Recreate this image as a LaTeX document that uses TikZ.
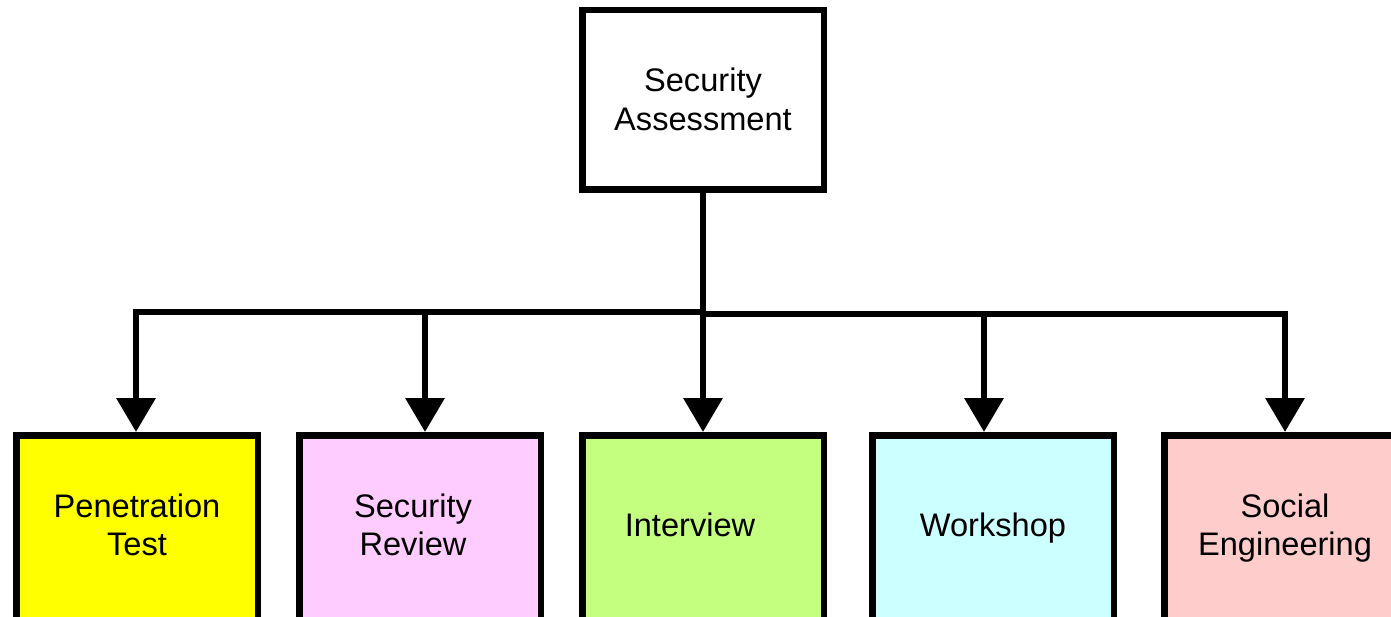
\documentclass[tikz,border=0pt]{standalone}
\usepackage{fontspec}
\setmainfont{Liberation Sans}
\usetikzlibrary{arrows.meta}

\definecolor{penfill}{HTML}{FFFF00}
\definecolor{revfill}{HTML}{FFCCFF}
\definecolor{intfill}{RGB}{196,255,128}
\definecolor{wsfill}{HTML}{CCFFFF}
\definecolor{socfill}{HTML}{FFCCCC}

% centred lines, set a little higher than the middle of their box
\newcommand\liftedlines[1]{%
  \raisebox{0pt}[\height][\dimexpr\depth+1.25pt\relax]{%
    \begin{tabular}{@{}c@{}}#1\end{tabular}}}

\begin{document}
\begin{tikzpicture}[
  x=0.5pt, y=-0.5pt,
  box/.style={draw=black, line width=3.25pt, rectangle,
    minimum width=120.75pt, minimum height=89.75pt, inner sep=0pt,
    align=center, font=\fontsize{16.3pt}{19.2pt}\selectfont},
  leaf/.style={box, minimum height=95pt, anchor=north},
  wire/.style={draw=black, line width=3.25pt, line join=miter},
  conn/.style={wire, -{Triangle[width=19pt,length=17pt]}}
]
\useasboundingbox (0,0) rectangle (1391,616);
\clip (0,0) rectangle (1391,616);

% root of the tree
\node[box, fill=white] (root) at (703,99.5) {Security\\Assessment};

% assessment methods
\node[leaf, fill=penfill] (pen) at (137,432) {\liftedlines{Penetration\\Test}};
\node[leaf, fill=revfill] (rev) at (420,432) {\liftedlines{Security\hspace*{7pt}\\Review\hspace*{7pt}}};
\node[leaf, fill=intfill] (int) at (703,432) {\liftedlines{Interview\hspace*{13pt}}};
\node[leaf, fill=wsfill]  (ws)  at (993,432) {\liftedlines{Workshop}};
\node[leaf, fill=socfill] (soc) at (1285,432) {\liftedlines{Social\\Engineering}};

% branching bus under the root
\coordinate (busL) at (703,312);
\coordinate (busR) at (703,314);

\draw[conn] (root.south) -- (int.north);
\draw[conn] (busL) -| ([xshift=-0.5pt]pen.north);
\draw[conn] (busL) -| ([xshift=2.5pt]rev.north);
\draw[conn] (busR) -| ([xshift=-4.5pt]ws.north);
\draw[conn] (busR) -| (soc.north);
\end{tikzpicture}
\end{document}
